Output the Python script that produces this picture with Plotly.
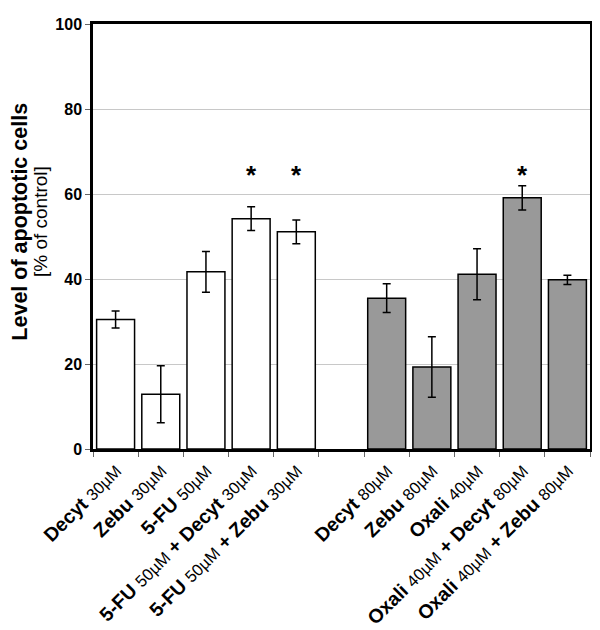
import plotly.graph_objects as go

S = "<span style='font-size:16.5px'>"
E = "</span>"

categories = [
    f"<b>Decyt</b> {S}30µM{E}", f"<b>Zebu</b> {S}30µM{E}", f"<b>5-FU</b> {S}50µM{E}",
    f"<b>5-FU</b> {S}50µM{E} <b>+ Decyt</b> {S}30µM{E}", f"<b>5-FU</b> {S}50µM{E} <b>+ Zebu</b> {S}30µM{E}",
    " ",
    f"<b>Decyt</b> {S}80µM{E}", f"<b>Zebu</b> {S}80µM{E}", f"<b>Oxali</b> {S}40µM{E}",
    f"<b>Oxali</b> {S}40µM{E} <b>+ Decyt</b> {S}80µM{E}", f"<b>Oxali</b> {S}40µM{E} <b>+ Zebu</b> {S}80µM{E}",
]

group1_labels = categories[0:5]
group1_values = [30.5, 12.9, 41.7, 54.2, 51.1]
group1_errors = [2.0, 6.7, 4.8, 2.8, 2.8]

group2_labels = categories[6:11]
group2_values = [35.5, 19.3, 41.1, 59.1, 39.8]
group2_errors = [3.4, 7.1, 6.0, 2.85, 1.1]

star_labels = [categories[3], categories[4], categories[9]]
star_level = 65.4

y_ticks = [0, 20, 40, 60, 80, 100]

font_family = "Arial, Liberation Sans, sans-serif"

fig = go.Figure()
fig.add_trace(go.Bar(
    x=group1_labels, y=group1_values,
    marker=dict(color="white", line=dict(color="black", width=1.5)),
    error_y=dict(type="data", array=group1_errors, color="black", thickness=1.5, width=4),
    showlegend=False,
))
fig.add_trace(go.Bar(
    x=group2_labels, y=group2_values,
    marker=dict(color="#999999", line=dict(color="black", width=1.5)),
    error_y=dict(type="data", array=group2_errors, color="black", thickness=1.5, width=4),
    showlegend=False,
))

for lab in star_labels:
    fig.add_annotation(x=lab, y=star_level, text="<b>*</b>", showarrow=False,
                       font=dict(size=26, color="black", family=font_family),
                       yanchor="middle", yshift=-4)

fig.add_annotation(xref="paper", yref="paper", x=-0.146, y=0.536,
                   text="<b>Level of apoptotic cells</b>", textangle=-90, showarrow=False,
                   font=dict(size=21.5, color="black", family=font_family),
                   xanchor="center", yanchor="middle")
fig.add_annotation(xref="paper", yref="paper", x=-0.107, y=0.536,
                   text="[% of control]", textangle=-90, showarrow=False,
                   font=dict(size=19, color="black", family=font_family),
                   xanchor="center", yanchor="middle")

# The page body has an 8px margin, so the figure is shrunk by 8px to fit the window
fig.update_layout(
    width=592, height=622,
    margin=dict(l=85, r=10, t=16, b=181),
    paper_bgcolor="white", plot_bgcolor="white",
    barmode="overlay", bargap=0.16,
    font=dict(family=font_family, color="black"),
)
fig.update_xaxes(
    type="category", categoryorder="array", categoryarray=categories,
    tickangle=-45, tickfont=dict(size=19.5, family=font_family),
    showline=True, linecolor="black", linewidth=2.5, mirror=True,
    ticks="outside", tickson="boundaries", ticklen=5, tickcolor="#666666",
    showgrid=False, automargin=False,
)
fig.update_yaxes(
    range=[0, 100], tickvals=y_ticks, ticktext=[f"<b>{v}</b>" for v in y_ticks],
    tickfont=dict(size=16, family=font_family),
    showline=True, linecolor="black", linewidth=2.5, mirror=True,
    ticks="outside", ticklen=5, tickcolor="#666666",
    showgrid=True, gridcolor="#c8c8c8", gridwidth=1, zeroline=False,
    automargin=False,
)

fig.write_html("out.html")
